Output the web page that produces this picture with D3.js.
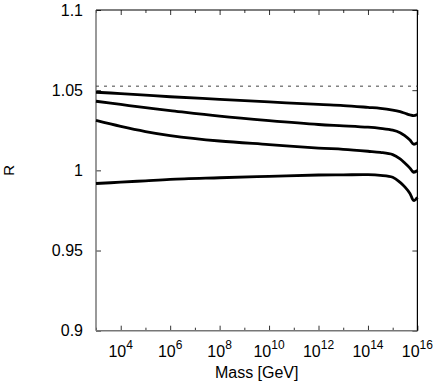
<!DOCTYPE html>
<html>
<head>
<meta charset="utf-8">
<script src="https://cdn.jsdelivr.net/npm/d3@7"></script>
<style>
  body { margin: 0; background: #fff; }
  text { font-family: "Liberation Sans", Arial, sans-serif; }
</style>
</head>
<body>
<svg id="drawing_region"></svg>
<script>
// masses in GeV
const mass = [1e3, 1e4, 1e5, 1e6, 1e8, 1e10, 1e12, 1e13, 1e14, 3.16e14, 1e15, 2e15, 3.16e15, 5e15, 7.08e15, 1e16];

const curve1 = [1.0487, 1.0479, 1.0469, 1.0459, 1.0443, 1.0427, 1.0411, 1.0404, 1.0393, 1.0387, 1.0376, 1.0366, 1.0356, 1.0346, 1.0341, 1.0349];
const curve2 = [1.0431, 1.0411, 1.0391, 1.0373, 1.0338, 1.0310, 1.0286, 1.0278, 1.0269, 1.0262, 1.0251, 1.0235, 1.0215, 1.0189, 1.0163, 1.0172];
const curve3 = [1.0311, 1.0274, 1.0242, 1.0217, 1.0183, 1.0161, 1.0139, 1.0131, 1.0119, 1.0112, 1.0098, 1.0071, 1.0044, 1.0014, 0.9987, 1.0000];
const curve4 = [0.9918, 0.9926, 0.9935, 0.9944, 0.9954, 0.9963, 0.9971, 0.9972, 0.9973, 0.9969, 0.9957, 0.9925, 0.9895, 0.9856, 0.9812, 0.9832];

const refLevel = 1.0525;

const yTicks = [0.9, 0.95, 1, 1.05, 1.1];
const xMajor = [1e4, 1e6, 1e8, 1e10, 1e12, 1e14, 1e16];
const xMinor = [1e3, 1e5, 1e7, 1e9, 1e11, 1e13, 1e15];
const xExponents = ["4", "6", "8", "10", "12", "14", "16"];

const config = {
    width: 436,
    height: 392,
    margin: {top: 10, right: 18.6, bottom: 61.3, left: 96}
};

const svg = d3.select('#drawing_region')
    .attr('width', config.width)
    .attr('height', config.height);

const inner_width = config.width - config.margin.left - config.margin.right;
const inner_height = config.height - config.margin.top - config.margin.bottom;

const chart = svg.append('g')
    .attr('transform', `translate(${config.margin.left}, ${config.margin.top})`);

const xscale = d3.scaleLog()
    .domain([1e3, 1e16])
    .range([0, inner_width]);

const yscale = d3.scaleLinear()
    .domain([0.9, 1.1])
    .range([inner_height, 0]);

// frame: left / bottom grey, top / right black
const axisColor = '#777';

// minor x ticks (bottom + top)
const xminorBottom = chart.append('g')
    .attr('transform', `translate(0, ${inner_height})`)
    .call(d3.axisBottom(xscale).tickValues(xMinor).tickSize(-3).tickFormat(''));
const xminorTop = chart.append('g')
    .call(d3.axisTop(xscale).tickValues(xMinor).tickSize(-3).tickFormat(''));

const xaxis_group = chart.append('g')
    .attr('transform', `translate(0, ${inner_height})`)
    .call(d3.axisBottom(xscale).tickValues(xMajor).tickSize(-5).tickSizeOuter(0).tickFormat(''));

const xtop_group = chart.append('g')
    .call(d3.axisTop(xscale).tickValues(xMajor).tickSize(-5).tickSizeOuter(0).tickFormat(''));

const yaxis_group = chart.append('g')
    .call(d3.axisLeft(yscale).tickValues(yTicks).tickSize(-5).tickSizeOuter(0).tickPadding(13)
        .tickFormat(d => String(d)));

const yright_group = chart.append('g')
    .attr('transform', `translate(${inner_width}, 0)`)
    .call(d3.axisRight(yscale).tickValues(yTicks).tickSize(-5).tickSizeOuter(0).tickFormat(''));

[xminorBottom, xminorTop, xaxis_group, xtop_group, yaxis_group, yright_group].forEach(g => {
    g.selectAll('.domain').remove();
    g.selectAll('line').attr('stroke', '#333').attr('stroke-width', 1);
});

yaxis_group.selectAll('text')
    .attr('font-size', '16px')
    .attr('fill', '#000');

// x tick labels 10^n
const xlabels = chart.append('g')
    .attr('transform', `translate(0, ${inner_height})`);
xMajor.forEach((v, i) => {
    const t = xlabels.append('text')
        .attr('x', xscale(v))
        .attr('y', 26)
        .attr('text-anchor', 'middle')
        .attr('font-size', '16px')
        .attr('fill', '#000');
    t.append('tspan').text('10');
    t.append('tspan')
        .attr('dy', -8)
        .attr('font-size', '12px')
        .text(xExponents[i]);
});

// frame lines
chart.append('line')
    .attr('x1', 0).attr('x2', 0).attr('y1', 0).attr('y2', inner_height)
    .attr('stroke', axisColor).attr('stroke-width', 1.5);
chart.append('line')
    .attr('x1', 0).attr('x2', inner_width).attr('y1', inner_height).attr('y2', inner_height)
    .attr('stroke', axisColor).attr('stroke-width', 1.5);
chart.append('line')
    .attr('x1', 0).attr('x2', inner_width).attr('y1', 0).attr('y2', 0)
    .attr('stroke', '#000').attr('stroke-width', 1.2);
chart.append('line')
    .attr('x1', inner_width).attr('x2', inner_width).attr('y1', 0).attr('y2', inner_height)
    .attr('stroke', '#000').attr('stroke-width', 1.2);

// dashed reference
chart.append('line')
    .attr('x1', xscale(1e3)).attr('x2', xscale(1e16))
    .attr('y1', yscale(refLevel)).attr('y2', yscale(refLevel))
    .attr('stroke', '#444')
    .attr('stroke-width', 1)
    .attr('stroke-dasharray', '3,5');

const line = d3.line()
    .x(d => xscale(d.x))
    .y(d => yscale(d.y))
    .curve(d3.curveCatmullRom.alpha(0.5));

[curve1, curve2, curve3, curve4].forEach(c => {
    const pts = mass.map((m, i) => ({x: m, y: c[i]}));
    chart.append('path')
        .attr('d', line(pts))
        .attr('stroke', '#000')
        .attr('stroke-width', 2.8)
        .attr('stroke-linejoin', 'round')
        .attr('fill', 'none');
});

// axis titles
svg.append('text')
    .attr('x', config.margin.left + inner_width / 2)
    .attr('y', 378)
    .attr('text-anchor', 'middle')
    .attr('font-size', '16px')
    .text('Mass [GeV]');

svg.append('text')
    .attr('transform', `translate(14, ${config.margin.top + inner_height / 2}) rotate(-90)`)
    .attr('text-anchor', 'middle')
    .attr('font-size', '15px')
    .text('R');
</script>
</body>
</html>
